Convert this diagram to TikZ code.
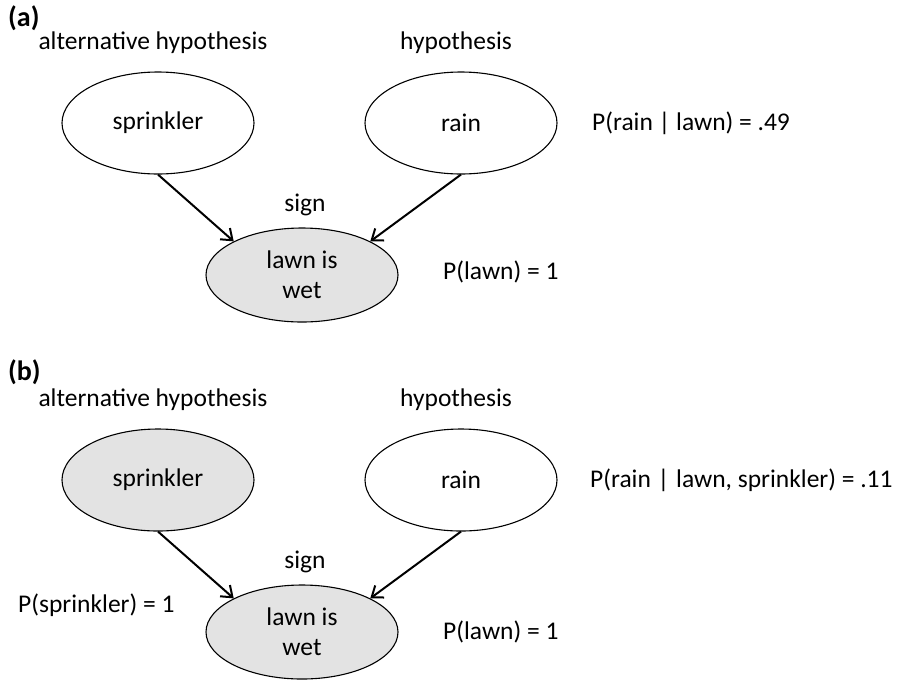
\documentclass[tikz,border=0pt]{standalone}
\usepackage{fontspec}
\setmainfont{Carlito}
\usetikzlibrary{arrows.meta,shapes.geometric}

\tikzset{
	var/.style={ellipse, draw, line width=1.1pt, minimum width=192pt, minimum height=102pt, font=\fontsize{25.5}{30}\selectfont, align=center},
	obs/.style={var, fill=gray!22},
	lbl/.style={font=\fontsize{25.5}{30}\selectfont, inner sep=0pt},
	panel/.style={font=\fontsize{28}{30}\selectfont\bfseries, inner sep=0pt, anchor=west},
	edge/.style={line width=2pt, -{Straight Barb[length=10pt,width=15pt,line width=2pt]}},
}

\begin{document}
\begin{tikzpicture}[x=1pt,y=-1pt]
	\useasboundingbox (0,0) rectangle (899,681);
	% (a) only the sign is known
	\node[panel] (panA) at (8,18) {(a)};
	\node[lbl] (altA) at (153,43) {alternative hypothesis};
	\node[lbl] (hypA) at (456,43) {hypothesis};
	\node[var] (sprA) at (158,123) {sprinkler};
	\node[var] (rainA) at (461,123) {rain};
	\node[obs, minimum height=94pt] (lawnA) at (302,275) {lawn is\\wet};
	\node[lbl] (signA) at (305,205) {sign};
	\node[lbl, anchor=west] (pRainA) at (592,123) {P(rain | lawn) = .49};
	\node[lbl, anchor=west] (pLawnA) at (443,272) {P(lawn) = 1};
	\draw[edge] (sprA.south) -- (lawnA.north west);
	\draw[edge] (rainA.south) -- (lawnA.north east);

	% (b) sprinkler is known too
	\node[panel] (panB) at (8,372) {(b)};
	\node[lbl] (altB) at (153,400) {alternative hypothesis};
	\node[lbl] (hypB) at (456,400) {hypothesis};
	\node[obs] (sprB) at (158,480) {sprinkler};
	\node[var] (rainB) at (461,480) {rain};
	\node[obs, minimum height=94pt] (lawnB) at (302,632) {lawn is\\wet};
	\node[lbl] (signB) at (305,562) {sign};
	\node[lbl, anchor=west] (pRainB) at (590,480) {P(rain\hspace{1pt} |\hspace{1pt} lawn, sprinkler) = .11};
	\node[lbl, anchor=west] (pSprB) at (18,605) {P(sprinkler) = 1};
	\node[lbl, anchor=west] (pLawnB) at (443,632) {P(lawn) = 1};
	\draw[edge] (sprB.south) -- (lawnB.north west);
	\draw[edge] (rainB.south) -- (lawnB.north east);
\end{tikzpicture}
\end{document}
